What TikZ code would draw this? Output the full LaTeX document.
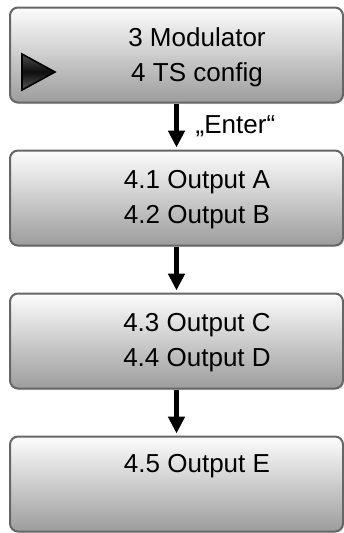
\documentclass[tikz,border=0pt]{standalone}
\usepackage{fontspec}
\setmainfont{Liberation Sans}
\usepackage{tikz}
\usetikzlibrary{arrows.meta,calc,shadows}
\definecolor{boxline}{HTML}{666666}
\definecolor{boxtop}{HTML}{FCFCFC}
\definecolor{boxmid}{HTML}{DCDCDC}
\definecolor{boxbottom}{HTML}{9C9C9C}
\pgfdeclareverticalshading{menushade}{100bp}{color(0bp)=(boxbottom); color(25bp)=(boxbottom);
  color(58bp)=(boxmid); color(75bp)=(boxtop); color(100bp)=(boxtop)}
\pgfdeclareverticalshading{cursorshade}{100bp}{color(0bp)=(gray!70!black); color(25bp)=(gray!70!black);
  color(50bp)=(black!95); color(75bp)=(gray!60!black); color(100bp)=(gray!60!black)}

\begin{document}
\begin{tikzpicture}[
  menubox/.style={draw=boxline, line width=0.05cm, rounded corners=0.2cm,
    shading=menushade, minimum width=8.325cm, minimum height=2.375cm,
    drop shadow={opacity=0.2, shadow xshift=0.03cm, shadow yshift=-0.04cm}},
  menutext/.style={align=center, font=\fontsize{18.5}{25}\selectfont},
  flow/.style={line width=0.125cm, shorten >=0.05cm, -{Triangle[width=0.4cm,length=0.42cm]}}
]
\useasboundingbox (0cm,0cm) rectangle (8.6cm,-13.325cm);
\node[menubox] (b1) at (4.4125cm,-1.375cm) {};
\node[menubox] (b2) at (4.4125cm,-4.95cm) {};
\node[menubox] (b3) at (4.4125cm,-8.525cm) {};
\node[menubox] (b4) at (4.4125cm,-12.1cm) {};
\node[menutext] (t1) at ($(b1.center)+(0.5125cm,-0.05cm)$) {3 Modulator\\4 TS config};
\node[menutext] (t2) at ($(b2.center)+(0.5125cm,-0.05cm)$) {4.1 Output A\\4.2 Output B};
\node[menutext] (t3) at ($(b3.center)+(0.5125cm,-0.05cm)$) {4.3 Output C\\4.4 Output D};
\node[menutext] (t4) at ($(b4.center)+(0.5125cm,-0.05cm)$) {4.5 Output E\\\strut};
% cursor
\draw[black, line width=0.04cm, shading=cursorshade]
  (0.55cm,-1.35cm) -- (1.375cm,-1.8cm) -- (0.55cm,-2.25cm) -- cycle;
\draw[flow] (b1) -- node[right=0.3cm, menutext] {„Enter“} (b2);
\draw[flow] (b2) -- (b3);
\draw[flow] (b3) -- (b4);
\end{tikzpicture}
\end{document}
